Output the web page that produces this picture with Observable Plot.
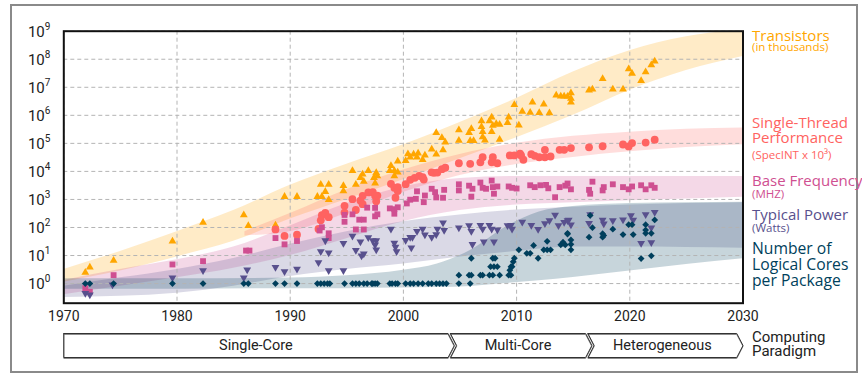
<!DOCTYPE html>
<html><head><meta charset="utf-8">
<script src="https://cdn.jsdelivr.net/npm/d3@7"></script>
<script src="https://cdn.jsdelivr.net/npm/@observablehq/plot@0.6"></script>
<style>
body{margin:0;background:#fff;}
#wrap{position:relative;width:862px;height:376px;overflow:hidden;font-family:Roboto,sans-serif;}
#border{position:absolute;left:10px;top:4px;width:848px;height:369px;border:2px solid #8a8a8a;box-sizing:border-box;}
#main{position:absolute;left:0;top:0;}
#para{position:absolute;left:0;top:330px;}
#para g[aria-label="line"]{filter:drop-shadow(0px 1.2px 0.6px rgba(0,0,0,0.45));}
.lab{position:absolute;left:752px;white-space:pre;font-family:"Open Sans",sans-serif;margin:0;padding:0;}
.two{font-size:11.5px;}
.two::first-line{font-size:15px;}
.big{font-size:15px;}
.small{font-size:11.5px;line-height:12px;}
#paralab{position:absolute;left:752px;top:330px;white-space:pre;font-family:Roboto,sans-serif;font-size:15px;line-height:14px;color:#222;}
</style></head><body>
<div id="wrap">
<div id="border"></div>
<div id="main"></div>
<div id="para"></div>
<div id="paralab">Computing
Paradigm</div>
<div class="lab two" style="top:29.9px;line-height:11.6px;color:#ffa600">Transistors
(in thousands)</div>
<div class="lab big" style="top:115.3px;line-height:14.4px;color:#ff6361">Single-Thread
Performance</div>
<div class="lab small" style="top:148.6px;color:#ff6361">(SpecINT x 10³)</div>
<div class="lab two" style="top:173.5px;line-height:13.3px;color:#cf4f91">Base Frequency
(MHZ)</div>
<div class="lab two" style="top:207px;line-height:14.3px;color:#58508d">Typical Power
(Watts)</div>
<div class="lab big" style="top:241px;line-height:15.85px;font-size:15.7px;color:#003f5c">Number of
Logical Cores
per Package</div>
</div>
<script>
// ---------------- data ----------------
const xTicks = [1970,1980,1990,2000,2010,2020,2030];
const yExponents = [0,1,2,3,4,5,6,7,8,9];

const transistors = [
[1971.9,2.5],[1972.3,3.8],[1974.4,6.6],[1979.6,32],[1982.3,150],[1985.9,280],[1986.3,115],[1988.7,120],
[1989.5,1260],[1990.6,1260],[1992.4,1260],[1992.7,3400],[1992.8,1260],[1993.1,1900],[1993.4,3400],[1993.4,980],
[1994.7,3100],[1994.7,2000],[1995.5,10500],[1995.8,3400],[1996.2,6000],[1996.4,7900],[1996.5,4400],[1996.9,10500],
[1997.4,6000],[1997.5,3800],[1997.6,8900],[1997.7,6900],[1998.8,10500],[1998.9,16000],[1999.2,6900],[1999.2,10500],
[1999.5,23000],[1999.5,9300],[2000.2,24000],[2000.4,42000],[2000.6,32000],[2000.9,41000],[2001.2,32000],[2001.3,44000],
[2001.7,26000],[2001.9,38000],[2002.5,62000],[2002.9,41000],[2002.9,240000],[2003.4,160000],[2003.5,58000],[2003.7,110000],
[2004.9,300000],[2004.9,126000],[2005.8,240000],[2006.0,330000],[2005.9,123000],[2006.2,123000],[2006.9,630000],[2006.9,390000],
[2007.0,260000],[2007.0,170000],[2007.2,129000],[2007.6,630000],[2007.8,850000],[2007.9,430000],[2007.8,257000],[2008.2,500000],
[2008.5,470000],[2008.5,138000],[2009.2,540000],[2009.3,850000],[2009.8,2.4e6],[2010.2,440000],[2010.5,1.38e6],[2011.2,1.26e6],
[2011.4,2.9e6],[2012.0,1.23e6],[2012.4,2.5e6],[2012.9,1.2e6],[2013.5,5.2e6],[2013.9,4.8e6],[2014.2,4.8e6],[2014.5,4.7e6],
[2014.8,6.2e6],[2014.8,2.9e6],[2014.8,4e6],[2016.4,7.8e6],[2016.7,8.5e6],[2017.6,2e7],[2018.5,8.5e6],[2019.4,8.5e6],
[2019.9,4.5e7],[2020.2,3.1e7],[2021.0,1.7e7],[2021.4,3.5e7],[2021.9,6.2e7],[2022.2,8.5e7]
];

const singleThread = [
[1988.7,85],[1989.5,50],[1990.6,55],[1992.5,89],[1992.7,180],[1992.8,275],[1993.1,330],[1993.4,234],
[1994.8,590],[1994.8,340],[1995.5,1020],[1995.8,420],[1996.2,910],[1996.4,1350],[1996.4,680],[1996.9,1780],
[1997.3,1820],[1997.5,1350],[1997.6,870],[1997.7,1380],[1998.9,3600],[1999.2,2600],[1999.3,1150],[1999.5,2000],
[1999.5,2750],[2000.2,3500],[2000.6,5000],[2001.0,5900],[2001.4,6900],[2001.7,6200],[2001.8,5100],[2002.5,9300],
[2002.7,8900],[2003.0,9100],[2003.4,12000],[2003.7,13500],[2004.9,19500],[2005.9,18600],[2006.8,21000],[2007.0,32000],
[2007.8,21000],[2007.9,32000],[2008.3,19500],[2009.4,37000],[2009.8,37000],[2010.3,43000],[2010.6,26000],[2010.4,37000],
[2011.3,41000],[2011.6,36000],[2012.0,32000],[2012.5,59000],[2012.5,32000],[2013.0,34000],[2013.8,59000],[2014.2,59000],
[2014.8,68000],[2016.4,72000],[2017.6,79000],[2019.4,91000],[2019.9,78000],[2020.2,102000],[2021.4,107000],[2022.2,135000]
];

const frequency = [
[1971.9,0.68],[1972.3,0.51],[1974.4,2],[1979.6,4.8],[1982.3,6.3],[1986.1,15],[1986.4,15],[1988.7,42],
[1989.5,25],[1990.6,33],[1992.6,78],[1992.8,102],[1993.4,62],[1993.4,42],[1994.8,160],[1994.8,280],
[1995.5,295],[1995.8,85],[1996.1,190],[1996.5,190],[1996.5,85],[1996.8,510],[1997.5,500],[1997.5,250],
[1997.7,295],[1998.8,480],[1999.2,310],[1999.2,450],[1999.5,525],[2000.3,720],[2000.6,980],[2001.1,1050],
[2001.2,1950],[2001.8,800],[2001.9,1380],[2002.5,2400],[2002.8,1820],[2002.9,1180],[2003.5,1150],[2003.6,2200],
[2004.9,3470],[2004.9,2100],[2005.8,3100],[2006.0,1260],[2006.1,2400],[2006.8,4000],[2007.0,2600],[2007.3,2400],
[2007.8,4700],[2007.9,2750],[2008.0,1600],[2008.3,2900],[2009.3,2900],[2009.6,2600],[2010.0,2450],[2011.2,3200],
[2011.6,2750],[2012.1,3200],[2012.6,3300],[2012.8,2500],[2013.4,1200],[2013.8,2750],[2014.3,3100],[2014.5,3700],
[2014.8,2300],[2016.4,2200],[2016.5,1600],[2016.7,4300],[2017.6,2100],[2017.7,2750],[2018.5,3470],[2019.4,2750],
[2019.9,2300],[2020.2,2900],[2021.0,3200],[2021.4,2300],[2021.9,3200],[2022.2,2600]
];

const power = [
[1971.9,0.45],[1972.3,0.4],[1974.3,0.9],[1979.6,1.6],[1982.3,2.9],[1985.9,1.6],[1986.2,3.1],[1988.7,3.8],
[1989.5,2.7],[1990.6,3.3],[1992.5,5.6],[1992.7,14],[1993.1,34],[1993.4,12.6],[1993.4,2.9],[1994.7,27.5],
[1994.7,2.9],[1995.5,50],[1995.8,15.5],[1996.2,31],[1996.3,9.8],[1996.5,11.5],[1996.9,44],[1997.3,34],
[1997.5,24],[1997.6,34],[1997.6,16],[1998.9,89],[1999.2,28],[1999.3,20],[1999.4,14],[2000.2,35],
[2000.6,45],[2000.7,19],[2000.8,45],[2001.2,74],[2001.7,89],[2001.9,55],[2002.5,45],[2002.9,56],
[2003.0,89],[2003.5,148],[2003.6,79],[2004.9,98],[2005.8,117],[2006.0,74],[2006.1,25],[2006.8,120],
[2007.0,89],[2007.1,31],[2007.6,120],[2007.8,89],[2008.0,31],[2008.3,83],[2009.2,117],[2009.5,120],
[2009.6,89],[2010.5,158],[2011.3,120],[2011.9,87],[2012.5,138],[2012.9,178],[2013.4,280],[2013.7,117],
[2014.2,155],[2014.5,178],[2014.6,186],[2014.8,126],[2016.4,141],[2016.5,288],[2017.6,186],[2017.7,135],
[2018.5,178],[2019.4,190],[2020.1,270],[2020.3,186],[2021.0,27.5],[2021.4,288],[2021.9,29],[2021.9,98],[2022.2,347]
];

const cores = [
[1971.9,1],[1972.3,1],[1974.4,1],[1979.6,1],[1982.3,1],[1985.9,1],[1986.3,1],[1988.7,1],[1989.5,1],[1990.6,1],
[1992.4,1],[1992.7,1],[1993.0,1],[1993.3,1],[1993.5,1],[1994.8,1],[1995.5,1],[1995.8,1],[1996.1,1],[1996.5,1],
[1996.8,1],[1997.2,1],[1997.3,1],[1997.5,1],[1997.7,1],[1998.8,1],[1999.0,1],[1999.3,1],[1999.5,1],[2000.2,1],
[2000.6,1],[2000.9,1],[2001.3,1],[2001.7,1],[2002.2,1],[2002.5,1],[2002.9,1],[2003.2,1],[2003.5,1],[2003.8,1],
[2004.9,2],[2004.9,1],[2005.8,2],[2006.0,2],[2005.9,1],[2006.0,8],[2006.8,2],[2007.0,2],[2007.6,2],[2007.9,2],
[2008.5,2],[2007.7,4],[2008.0,4],[2008.3,4],[2007.9,8],[2008.1,8],[2009.3,2],[2009.4,3],[2009.5,4],[2009.6,4],
[2009.7,6],[2009.8,8],[2009.5,2],[2010.2,16],[2010.9,12],[2011.2,12],[2011.5,23],[2011.9,8],[2012.4,16],[2012.7,16],
[2013.0,16],[2012.7,32],[2013.9,24],[2014.1,27],[2014.3,24],[2014.5,58],[2014.1,30],[2014.5,62],[2014.8,36],[2014.8,25],
[2014.8,16],[2016.4,45],[2016.7,98],[2016.5,270],[2017.6,45],[2017.6,60],[2017.7,52],[2018.5,87],[2019.4,56],[2019.9,126],
[2020.2,126],[2020.3,56],[2021.0,7.8],[2021.4,126],[2021.4,81],[2021.4,62],[2021.9,9.8],[2021.9,62],[2022.2,186]
];

// bands (upper / lower envelopes)
const transBandYears = [1970,1975,1980,1985,1990,1995,2000,2005,2010,2015,2020,2025,2030];
const transBandLo = [1.12,2.8,8.9,32,200,1000,5000,28000,1.6e5,1e6,7.9e6,4e7,1.26e8];
const transBandHi = [3.16,14,71,400,3200,18000,89000,5.6e5,4e6,3.5e7,2e8,6.3e8,1.12e9];

const stBandYears = [1986,1990,1995,2000,2005,2010,2015,2020,2025,2030];
const stBandLo = [50,71,316,1780,7100,17800,31600,50000,71000,89000];
const stBandHi = [71,316,2240,11200,40000,100000,178000,251000,316000,355000];

const freqBandYears = [1970,1975,1980,1985,1990,1995,2000,2005,2010,2015,2020,2030];
const freqBandLo = [0.4,0.8,1.6,3.5,10,40,160,400,630,760,890,1200];
const freqBandHi = [1.3,3.2,7.1,20,112,710,2800,5600,6600,6600,6600,6600];

const powerBandYears = [1970,1975,1980,1985,1990,1995,2000,2005,2010,2015,2020,2030];
const powerBandLo = [0.32,0.35,0.45,0.8,1.8,3.2,5,8.9,14,20,20,18];
const powerBandHi = [0.8,1.6,3.2,7.9,25,71,160,280,420,525,630,760];

const coresBandYears = [1970,1980,1990,1995,2000,2003,2006,2009,2012,2015,2020,2025,2030];
const coresBandLo = [0.63,0.63,0.66,0.66,0.69,0.72,0.79,1.0,1.26,1.66,2.8,4.8,7.6];
const coresBandHi = [1.48,1.48,1.58,1.9,3.0,5.0,15.8,100,355,560,710,760,790];

const paradigms = ["Single-Core","Multi-Core","Heterogeneous"];
const paraStart = [1970, 2004.15, 2016.3];
const paraEnd = [2003.95, 2016.1, 2029.45];
const paraTip = 0.55;

const colors = {tr:"#ffa600", st:"#ff6361", fr:"#cf4f91", pw:"#58508d", co:"#003f5c"};

// ---------------- build ----------------
const band = (years, lo, hi) => years.map((x,i) => ({x, lo: lo[i], hi: hi[i]}));
const triDown = {draw(ctx, size){const s3=Math.sqrt(3);const y=-Math.sqrt(size/(s3*3));
  ctx.moveTo(0,-y*2);ctx.lineTo(-s3*y,y);ctx.lineTo(s3*y,y);ctx.closePath();}};
const diamond = {draw(ctx, size){const h=Math.sqrt(size)/Math.SQRT2;
  ctx.moveTo(0,-h);ctx.lineTo(h,0);ctx.lineTo(0,h);ctx.lineTo(-h,0);ctx.closePath();}};

const areaOpts = (fill) => ({x:"x", y1:"lo", y2:"hi", fill, fillOpacity:0.22, curve:"monotone-x", clip:true});
const gridStyle = {stroke:"#b4b4b4", strokeDasharray:"4,3", strokeWidth:1};

const main = Plot.plot({
  width:862, height:330,
  marginLeft:63.3, marginRight:119.5, marginTop:30.7, marginBottom:27.3,
  x:{domain:[1970,2030], axis:null},
  y:{type:"log", domain:[Math.pow(10,-0.7), 1e9], axis:null},
  style:{fontFamily:"Roboto, sans-serif", fontSize:"14px", background:"transparent", overflow:"visible", color:"#222"},
  marks:[
    Plot.areaY(band(transBandYears, transBandLo, transBandHi), areaOpts(colors.tr)),
    Plot.areaY(band(stBandYears, stBandLo, stBandHi), areaOpts(colors.st)),
    Plot.areaY(band(freqBandYears, freqBandLo, freqBandHi), areaOpts(colors.fr)),
    Plot.areaY(band(powerBandYears, powerBandLo, powerBandHi), areaOpts(colors.pw)),
    Plot.areaY(band(coresBandYears, coresBandLo, coresBandHi), areaOpts(colors.co)),
    Plot.ruleX(xTicks, {x:d=>d, ...gridStyle}),
    Plot.ruleY(yExponents, {y:d=>Math.pow(10,d), ...gridStyle}),
    Plot.dot(transistors, {x:d=>d[0], y:d=>d[1], symbol:"triangle", r:2.9, fill:colors.tr}),
    Plot.dot(singleThread, {x:d=>d[0], y:d=>d[1], symbol:"circle", r:3.9, fill:colors.st}),
    Plot.dot(frequency, {x:d=>d[0], y:d=>d[1], symbol:"square", r:3.3, fill:colors.fr}),
    Plot.dot(power, {x:d=>d[0], y:d=>d[1], symbol:triDown, r:2.9, fill:colors.pw}),
    Plot.dot(cores, {x:d=>d[0], y:d=>d[1], symbol:diamond, r:2.7, fill:colors.co}),
    Plot.frame({stroke:"#111", strokeWidth:2}),
    Plot.text(xTicks, {x:d=>d, frameAnchor:"bottom", dy:17.5, text:d=>String(d), fontSize:14, fill:"#222"}),
    Plot.text(yExponents, {y:d=>Math.pow(10,d), frameAnchor:"left", dx:-19, dy:1, textAnchor:"end", text:()=>"10", fontSize:15, fill:"#222"}),
    Plot.text(yExponents, {y:d=>Math.pow(10,d), frameAnchor:"left", dx:-19, dy:-4.5, textAnchor:"start", text:d=>String(d), fontSize:10, fill:"#222"})
  ]
});
document.getElementById("main").appendChild(main);

// paradigm arrows
const arrowPts = [];
paradigms.forEach((name,i) => {
  const s = paraStart[i], e = paraEnd[i];
  const pts = [[s,1],[e,1],[e+paraTip,0.5],[e,0],[s,0]];
  if (i > 0) pts.push([s+paraTip,0.5]);
  pts.push([s,1]);
  pts.forEach(p => arrowPts.push({name, x:p[0], y:p[1]}));
});
const para = Plot.plot({
  width:862, height:46,
  marginLeft:63.3, marginRight:119.5, marginTop:3, marginBottom:19,
  x:{domain:[1970,2030], axis:null},
  y:{domain:[0,1], axis:null},
  style:{fontFamily:"Roboto, sans-serif", fontSize:"14px", background:"transparent", overflow:"visible", color:"#222"},
  marks:[
    Plot.line(arrowPts, {x:"x", y:"y", z:"name", stroke:"#333", strokeWidth:1, curve:"linear"}),
    Plot.text(paradigms, {x:(d,i)=>(paraStart[i]+paraEnd[i])/2, y:0.5, text:d=>d, fontSize:14.5, fill:"#222"})
  ]
});
document.getElementById("para").appendChild(para);
</script>
</body></html>
